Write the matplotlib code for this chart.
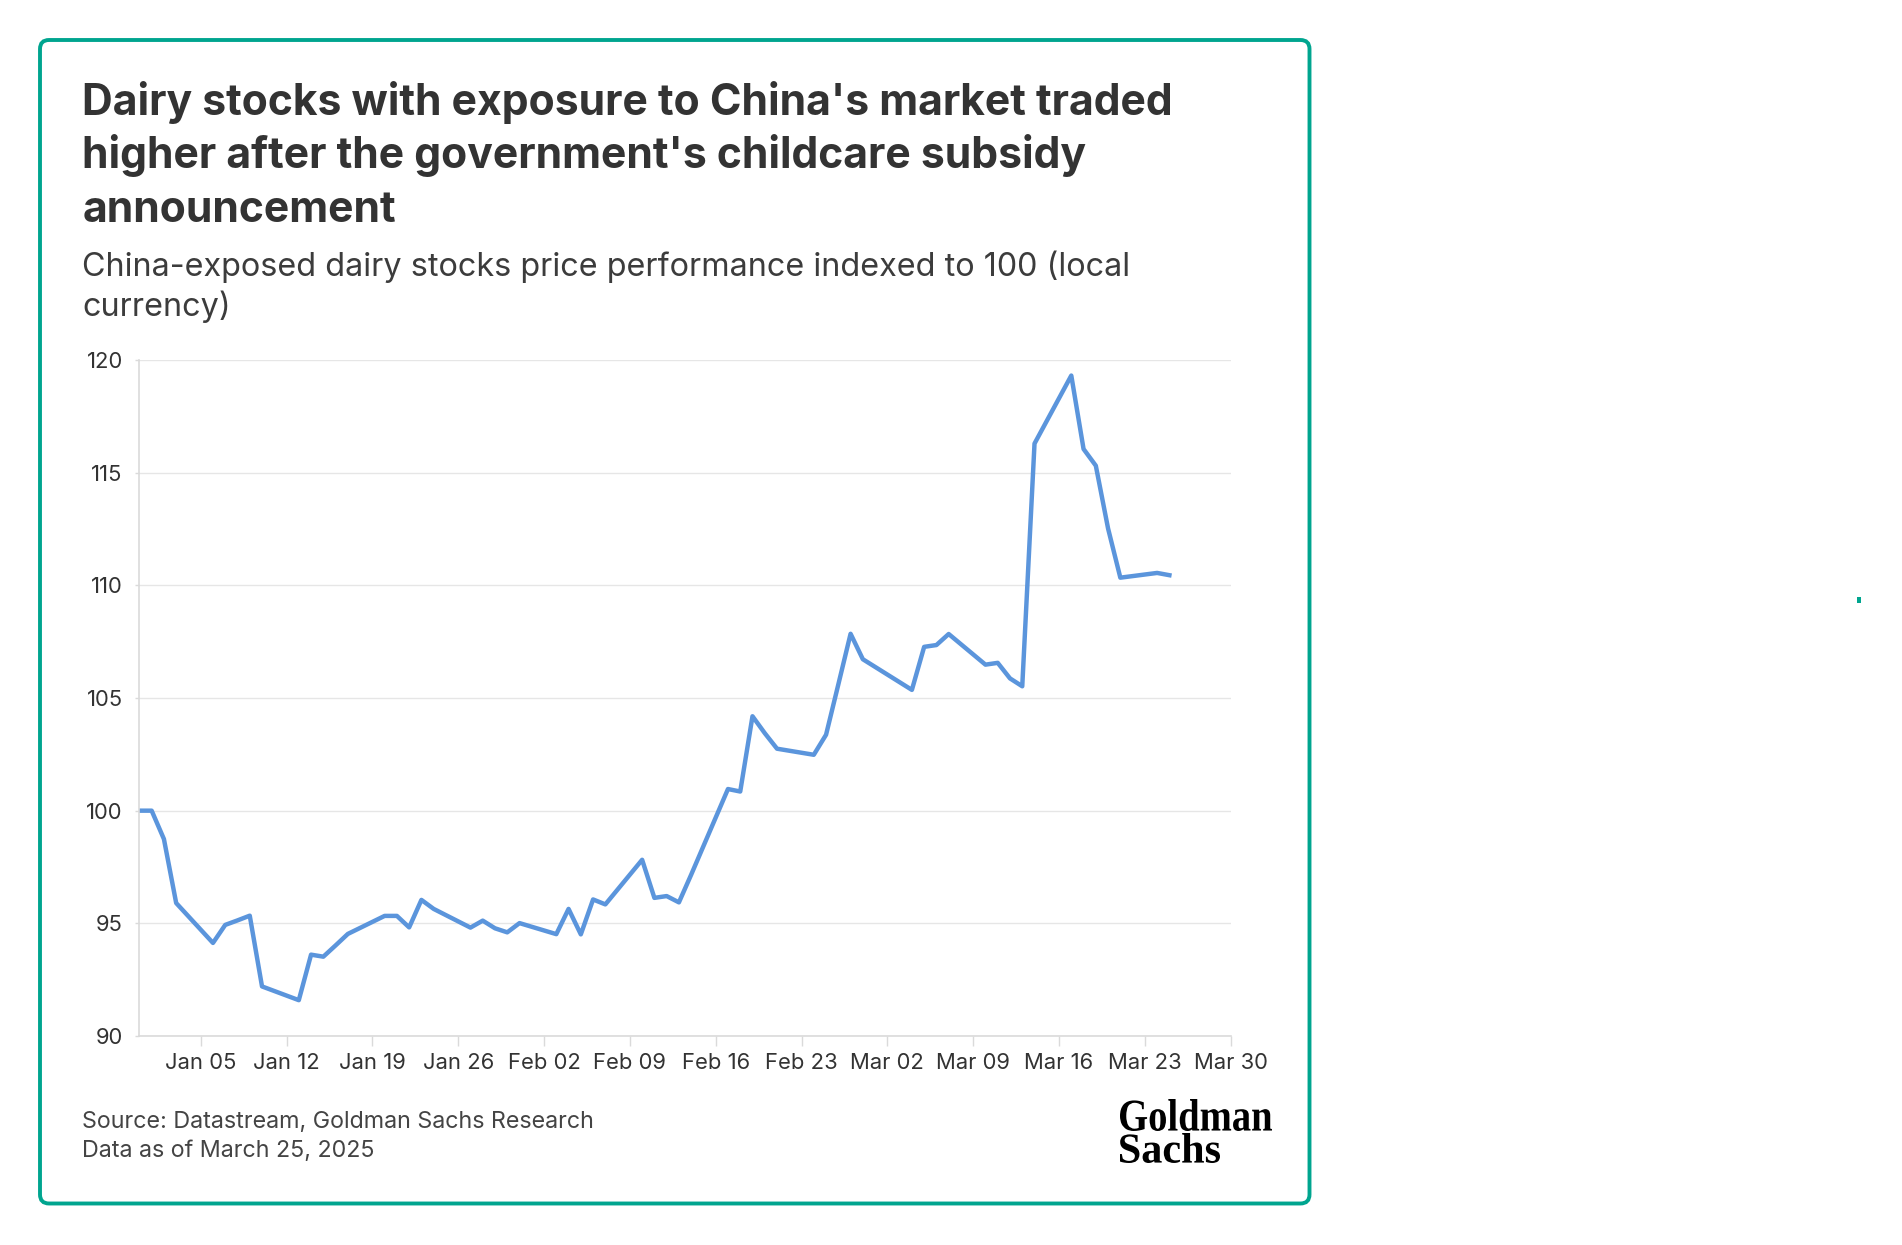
import matplotlib
matplotlib.use("Agg")
import matplotlib.pyplot as plt
import pandas as pd
from matplotlib.patches import FancyBboxPatch, Rectangle, PathPatch
from matplotlib.textpath import TextPath
from matplotlib.font_manager import FontProperties
from matplotlib.transforms import Affine2D

W, H = 1902, 1245
FONT = "Inter"

# trading days and index level (100 = Dec 31)
dates = ["2024-12-31", "2025-01-01", "2025-01-02", "2025-01-03",
         "2025-01-06", "2025-01-07", "2025-01-08", "2025-01-09", "2025-01-10",
         "2025-01-13", "2025-01-14", "2025-01-15", "2025-01-16", "2025-01-17",
         "2025-01-20", "2025-01-21", "2025-01-22", "2025-01-23", "2025-01-24",
         "2025-01-27", "2025-01-28", "2025-01-29", "2025-01-30", "2025-01-31",
         "2025-02-03", "2025-02-04", "2025-02-05", "2025-02-06", "2025-02-07",
         "2025-02-10", "2025-02-11", "2025-02-12", "2025-02-13", "2025-02-14",
         "2025-02-17", "2025-02-18", "2025-02-19", "2025-02-20", "2025-02-21",
         "2025-02-24", "2025-02-25", "2025-02-26", "2025-02-27", "2025-02-28",
         "2025-03-03", "2025-03-04", "2025-03-05", "2025-03-06", "2025-03-07",
         "2025-03-10", "2025-03-11", "2025-03-12", "2025-03-13", "2025-03-14",
         "2025-03-17", "2025-03-18", "2025-03-19", "2025-03-20", "2025-03-21",
         "2025-03-24", "2025-03-25"]
values = [100.0, 100.0, 98.74, 95.9,
          94.13, 94.93, 95.13, 95.34, 92.2,
          91.59, 93.61, 93.52, 94.02, 94.53,
          95.33, 95.33, 94.82, 96.04, 95.64,
          94.81, 95.12, 94.78, 94.6, 95.01,
          94.52, 95.64, 94.51, 96.06, 95.84,
          97.82, 96.13, 96.21, 95.93, 97.16,
          100.96, 100.85, 104.19, 103.44, 102.75,
          102.48, 103.37, 105.6, 107.85, 106.72,
          105.7, 105.36, 107.27, 107.35, 107.84,
          106.48, 106.56, 105.87, 105.52, 116.29,
          119.31, 116.05, 115.31, 112.52, 110.34,
          110.55, 110.45]
y_ticks = [90, 95, 100, 105, 110, 115, 120]
x_ticks = pd.date_range("2025-01-05", "2025-03-30", freq="7D")

title_lines = ["Dairy stocks with exposure to China's market traded",
               "higher after the government's childcare subsidy",
               "announcement"]
subtitle_lines = ["China-exposed dairy stocks price performance indexed to 100 (local",
                  "currency)"]
notes = ["Source: Datastream, Goldman Sachs Research",
         "Data as of March 25, 2025"]

fig = plt.figure(figsize=(W / 100, H / 100), dpi=100)
fig.patch.set_facecolor("white")
px = Affine2D().scale(1 / 100) + fig.dpi_scale_trans
renderer = fig.canvas.get_renderer()


def fit_size(s, width, **kw):
    t = fig.text(0, 0, s, fontsize=20, **kw)
    w = t.get_window_extent(renderer).width
    t.remove()
    return 20 * width / w


def put(x, y, s, size, **kw):
    return fig.text(x / W, 1 - y / H, s, fontsize=size, va="baseline", ha="left", **kw)


# card border
fig.add_artist(FancyBboxPatch((40, H - 1203.5), 1269.5, 1163.5,
                              boxstyle="round,pad=0,rounding_size=9",
                              transform=px, fc="none", ec="#00A58F", lw=2.8))
fig.add_artist(Rectangle((1857, H - 603), 4, 6, transform=px, fc="#00A58F", ec="none"))

# title
ts = fit_size(title_lines[0], 1094, family=FONT, weight="bold")
for s, yb in zip(title_lines, [115, 168, 222]):
    put(82.5, yb, s, ts, family=FONT, weight="bold", color="#333333")

ss = fit_size(subtitle_lines[0], 1048, family=FONT)
for s, yb in zip(subtitle_lines, [276, 316]):
    put(82.5, yb, s, ss, family=FONT, color="#3c3c3c")

ns = fit_size(notes[0], 513, family=FONT)
for s, yb in zip(notes, [1128, 1157]):
    put(82.5, yb, s, ns, family=FONT, color="#444444")

# chart
ax = fig.add_axes([139.4 / W, 1 - 1036 / H, (1230.7 - 139.4) / W, (1036 - 360) / H])
ax.patch.set_alpha(0)
ax.plot(pd.to_datetime(dates), values, color="#5B95DC", lw=3.2)
ax.set_xlim(pd.Timestamp("2024-12-31"), pd.Timestamp("2025-03-30"))
ax.set_ylim(90, 120)
ax.set_yticks(y_ticks)
ax.set_yticklabels([str(v) for v in y_ticks])
ax.set_xticks(x_ticks)
ax.set_xticklabels([d.strftime("%b %d") for d in x_ticks])
ax.grid(axis="y", color="#e6e6e6", lw=1)
ax.set_axisbelow(True)
for side in ["top", "right"]:
    ax.spines[side].set_visible(False)
for side in ["left", "bottom"]:
    ax.spines[side].set_color("#dadada")
    ax.spines[side].set_linewidth(1.2)

ks = fit_size("Jan 05", 71.5, family=FONT)
ax.tick_params(axis="x", length=7, width=1, color="#dadada", pad=5,
               labelsize=ks, labelcolor="#333333")
ax.tick_params(axis="y", length=3, width=1, color="#dadada", pad=9,
               labelsize=ks, labelcolor="#333333")
for lab in ax.get_xticklabels() + ax.get_yticklabels():
    lab.set_family(FONT)

# logo, condensed serif drawn as paths
def logo(s, x0, x1, top, bottom):
    tp = TextPath((0, 0), s, size=100,
                  prop=FontProperties(family="Liberation Serif", weight="bold"))
    ext = tp.get_extents()
    tr = (Affine2D().translate(-ext.x0, -ext.y0)
          .scale((x1 - x0) / ext.width, (bottom - top) / ext.height)
          .translate(x0, H - bottom) + px)
    fig.add_artist(PathPatch(tp, transform=tr, fc="black", ec="none"))


logo("Goldman", 1120, 1272, 1099, 1131)
logo("Sachs", 1120, 1220, 1133, 1163)

fig.savefig("out.png", dpi=100, facecolor="white")
